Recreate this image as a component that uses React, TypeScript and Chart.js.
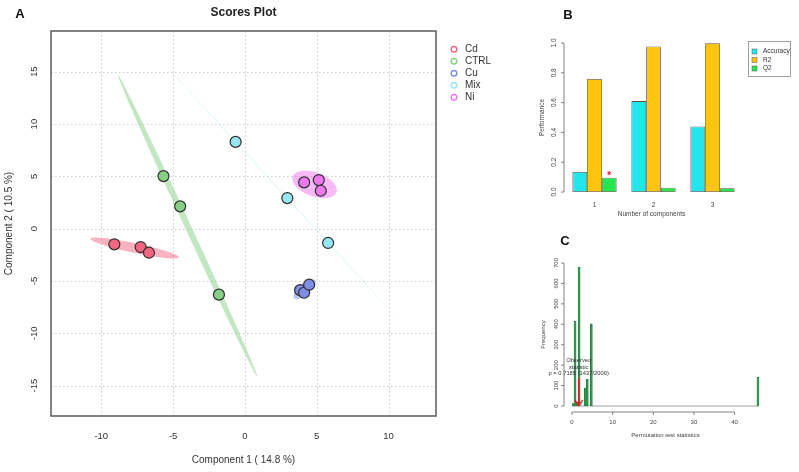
import React, { useEffect, useRef } from 'react';
import { Chart, registerables } from 'chart.js';
Chart.register(...registerables);

const FONT = '"Liberation Sans", Arial, Helvetica, sans-serif';

// ---------- Panel A: Scores plot ----------
const groupNames = ['Cd', 'CTRL', 'Cu', 'Mix', 'Ni'];
const groupColors = ['#F0677F', '#86D086', '#7D8DE2', '#95E7F3', '#EE78EE'];
const cdX = [-9.09, -7.26, -6.68];
const cdY = [-1.49, -1.75, -2.29];
const ctrlX = [-5.67, -4.51, -1.81];
const ctrlY = [5.03, 2.14, -6.3];
const cuX = [3.84, 4.12, 4.47];
const cuY = [-5.87, -6.12, -5.35];
const mixX = [-0.65, 2.95, 5.79];
const mixY = [8.3, 2.93, -1.36];
const niX = [4.12, 5.14, 5.28];
const niY = [4.43, 4.65, 3.63];
const scoreXTicks = [-10, -5, 0, 5, 10];
const scoreYTicks = [-15, -10, -5, 0, 5, 10, 15];
const scoresTitle = 'Scores Plot';
const pc1Label = 'Component 1 ( 14.8 %)';
const pc2Label = 'Component 2 ( 10.5 %)';

// ---------- Panel B: cross validation performance ----------
const compLabels = ['1', '2', '3'];
const accuracy = [0.134, 0.61, 0.44];
const r2 = [0.758, 0.977, 0.998];
const q2 = [0.096, 0.029, 0.025];
const perfSeriesNames = ['Accuracy', 'R2', 'Q2'];
const perfColors = ['#22E6EC', '#FFC40F', '#26E650'];
const perfTicks = [0, 0.2, 0.4, 0.6, 0.8, 1.0];
const bestComponentIndex = 0;

// ---------- Panel C: permutation test ----------
const binStarts = [0, 0.5, 1.0, 1.5, 3.0, 3.5, 4.5, 45.5];
const binCounts = [12, 415, 20, 680, 88, 131, 402, 140];
const binWidth = 0.5;
const permXTicks = [0, 10, 20, 30, 40];
const permYTicks = [0, 100, 200, 300, 400, 500, 600, 700];
const permXMax = 46;
const observedStat = 1.65;
const observedLines = ['Observed', 'statistic', 'p = 0.7185 (1437/2000)'];

const scoreGroups = [
  { xs: cdX, ys: cdY },
  { xs: ctrlX, ys: ctrlY },
  { xs: cuX, ys: cuY },
  { xs: mixX, ys: mixY },
  { xs: niX, ys: niY },
].map((g, i) => ({ ...g, name: groupNames[i], color: groupColors[i] }));

function rgba(hex: string, a: number) {
  const n = parseInt(hex.slice(1), 16);
  return `rgba(${(n >> 16) & 255},${(n >> 8) & 255},${n & 255},${a})`;
}

// 95% confidence ellipse from the sample covariance (as ellipse::ellipse does)
function ellipsePoints(xs: number[], ys: number[], steps = 120) {
  const k = xs.length;
  const mx = xs.reduce((a, b) => a + b, 0) / k;
  const my = ys.reduce((a, b) => a + b, 0) / k;
  let sxx = 0, syy = 0, sxy = 0;
  for (let i = 0; i < k; i++) {
    sxx += (xs[i] - mx) ** 2;
    syy += (ys[i] - my) ** 2;
    sxy += (xs[i] - mx) * (ys[i] - my);
  }
  sxx /= k - 1; syy /= k - 1; sxy /= k - 1;
  const t = Math.sqrt(5.991464547107979);
  const tr = sxx + syy;
  const det = sxx * syy - sxy * sxy;
  const disc = Math.sqrt(Math.max(tr * tr / 4 - det, 0));
  const l1 = tr / 2 + disc;
  const l2 = Math.max(tr / 2 - disc, 0);
  const phi = Math.abs(sxy) < 1e-12 ? (sxx >= syy ? 0 : Math.PI / 2) : Math.atan2(l1 - sxx, sxy);
  const a = t * Math.sqrt(l1);
  const b = t * Math.sqrt(l2);
  const pts: { x: number; y: number }[] = [];
  for (let s = 0; s <= steps; s++) {
    const th = (s / steps) * Math.PI * 2;
    pts.push({
      x: mx + a * Math.cos(th) * Math.cos(phi) - b * Math.sin(th) * Math.sin(phi),
      y: my + a * Math.cos(th) * Math.sin(phi) + b * Math.sin(th) * Math.cos(phi),
    });
  }
  return pts;
}

function text(ctx: CanvasRenderingContext2D, s: string, x: number, y: number, font: string, color = '#333', align: CanvasTextAlign = 'center', rot = 0) {
  ctx.save();
  ctx.font = font;
  ctx.fillStyle = color;
  ctx.textAlign = align;
  ctx.textBaseline = 'middle';
  ctx.translate(x, y);
  if (rot) ctx.rotate(rot);
  ctx.fillText(s, 0, 0);
  ctx.restore();
}

function line(ctx: CanvasRenderingContext2D, x1: number, y1: number, x2: number, y2: number) {
  ctx.beginPath();
  ctx.moveTo(x1, y1);
  ctx.lineTo(x2, y2);
  ctx.stroke();
}

const scoresPlugin = {
  id: 'scoresDeco',
  beforeDatasetsDraw(chart: any) {
    const { ctx, chartArea: ca, scales } = chart;
    const x = scales.x, y = scales.y;
    ctx.save();
    ctx.strokeStyle = '#cdcdcd';
    ctx.lineWidth = 1;
    ctx.setLineDash([1.5, 2.5]);
    scoreXTicks.forEach((v) => {
      const px = Math.round(x.getPixelForValue(v)) + 0.5;
      line(ctx, px, ca.top, px, ca.bottom);
    });
    scoreYTicks.forEach((v) => {
      const py = Math.round(y.getPixelForValue(v)) + 0.5;
      line(ctx, ca.left, py, ca.right, py);
    });
    ctx.setLineDash([]);
    ctx.beginPath();
    ctx.rect(ca.left, ca.top, ca.width, ca.height);
    ctx.clip();
    scoreGroups.forEach((g) => {
      const pts = ellipsePoints(g.xs, g.ys);
      ctx.beginPath();
      pts.forEach((p, i) => {
        const px = x.getPixelForValue(p.x);
        const py = y.getPixelForValue(p.y);
        if (i === 0) ctx.moveTo(px, py);
        else ctx.lineTo(px, py);
      });
      ctx.closePath();
      ctx.fillStyle = rgba(g.color, 0.5);
      ctx.fill();
    });
    ctx.restore();
  },
  afterDraw(chart: any) {
    const { ctx, chartArea: ca, scales } = chart;
    const x = scales.x, y = scales.y;
    ctx.save();
    ctx.strokeStyle = '#5a5a5a';
    ctx.lineWidth = 1.5;
    ctx.strokeRect(ca.left, ca.top, ca.width, ca.height);
    const tickFont = `9.5px ${FONT}`;
    scoreXTicks.forEach((v) => text(ctx, String(v), x.getPixelForValue(v), ca.bottom + 20, tickFont, '#333'));
    scoreYTicks.forEach((v) => text(ctx, String(v), ca.left - 17, y.getPixelForValue(v), tickFont, '#333', 'center', -Math.PI / 2));
    const cx = (ca.left + ca.right) / 2;
    text(ctx, scoresTitle, cx, 13, `bold 12px ${FONT}`, '#222');
    text(ctx, pc1Label, cx, 460, `10px ${FONT}`, '#333');
    text(ctx, pc2Label, 9, (ca.top + ca.bottom) / 2, `10px ${FONT}`, '#333', 'center', -Math.PI / 2);
    text(ctx, 'A', 20, 14, `bold 13px ${FONT}`, '#111');
    scoreGroups.forEach((g, i) => {
      const ly = 49.3 + i * 12;
      ctx.beginPath();
      ctx.arc(454, ly, 2.8, 0, Math.PI * 2);
      ctx.strokeStyle = g.color;
      ctx.lineWidth = 1.4;
      ctx.stroke();
      text(ctx, g.name, 465, ly, `10px ${FONT}`, '#333', 'left');
    });
    ctx.restore();
  },
};

const perfPlugin = {
  id: 'perfDeco',
  afterDraw(chart: any) {
    const { ctx, chartArea: ca, scales } = chart;
    const x = scales.x, y = scales.y;
    ctx.save();
    ctx.strokeStyle = '#666';
    ctx.lineWidth = 0.8;
    const ax = ca.left - 1;
    line(ctx, ax, y.getPixelForValue(0), ax, y.getPixelForValue(1));
    const f = `6.5px ${FONT}`;
    perfTicks.forEach((v) => {
      const py = y.getPixelForValue(v);
      line(ctx, ax, py, ax - 3, py);
      text(ctx, v.toFixed(1), ax - 10, py, f, '#444', 'center', -Math.PI / 2);
    });
    compLabels.forEach((l, i) => text(ctx, l, x.getPixelForValue(i), ca.bottom + 13, f, '#444'));
    text(ctx, 'Number of components', (ca.left + ca.right) / 2 - 2, ca.bottom + 22, f, '#444');
    text(ctx, 'Performance', 12, (ca.top + ca.bottom) / 2, f, '#444', 'center', -Math.PI / 2);
    // star on best Q2
    const bar = chart.getDatasetMeta(2).data[bestComponentIndex];
    text(ctx, '*', bar.x, bar.y - 2, `bold 11px ${FONT}`, '#E8203A');
    // legend
    ctx.strokeStyle = '#888';
    ctx.lineWidth = 0.8;
    ctx.strokeRect(218.5, 41.5, 42, 35);
    perfSeriesNames.forEach((n, i) => {
      const ly = 51.5 + i * 8.5;
      ctx.fillStyle = perfColors[i];
      ctx.fillRect(222, ly - 2.5, 5, 5);
      ctx.strokeStyle = '#555';
      ctx.lineWidth = 0.5;
      ctx.strokeRect(222, ly - 2.5, 5, 5);
      text(ctx, n, 233, ly, `6.5px ${FONT}`, '#333', 'left');
    });
    text(ctx, 'B', 38, 15, `bold 13px ${FONT}`, '#111');
    ctx.restore();
  },
};

const permPlugin = {
  id: 'permDeco',
  beforeDatasetsDraw(chart: any) {
    const { ctx, scales } = chart;
    const x = scales.x, y = scales.y;
    ctx.save();
    ctx.strokeStyle = '#888';
    ctx.lineWidth = 0.8;
    const py = y.getPixelForValue(0);
    line(ctx, x.getPixelForValue(0), py, x.getPixelForValue(permXMax), py);
    ctx.restore();
  },
  afterDraw(chart: any) {
    const { ctx, scales } = chart;
    const x = scales.x, y = scales.y;
    ctx.save();
    const f = `6px ${FONT}`;
    ctx.strokeStyle = '#666';
    ctx.lineWidth = 0.8;
    const ay = y.getPixelForValue(0) + 6;
    line(ctx, x.getPixelForValue(permXTicks[0]), ay, x.getPixelForValue(permXTicks[permXTicks.length - 1]), ay);
    permXTicks.forEach((v) => {
      const px = x.getPixelForValue(v);
      line(ctx, px, ay, px, ay + 3);
      text(ctx, String(v), px, ay + 10, f, '#444');
    });
    const ax = x.getPixelForValue(0) - 8;
    line(ctx, ax, y.getPixelForValue(permYTicks[0]), ax, y.getPixelForValue(permYTicks[permYTicks.length - 1]));
    permYTicks.forEach((v) => {
      const py = y.getPixelForValue(v);
      line(ctx, ax, py, ax - 3, py);
      text(ctx, String(v), ax - 8, py, f, '#444', 'center', -Math.PI / 2);
    });
    text(ctx, 'Permutation test statistics', (x.getPixelForValue(0) + x.getPixelForValue(permXMax)) / 2, ay + 23, f, '#444');
    text(ctx, 'Frequency', 13, (y.getPixelForValue(0) + y.getPixelForValue(700)) / 2, f, '#444', 'center', -Math.PI / 2);
    // observed statistic arrow
    const maxCount = Math.max(...binCounts);
    const ox = x.getPixelForValue(observedStat);
    const top = y.getPixelForValue(maxCount / 5);
    const tip = y.getPixelForValue(0);
    ctx.strokeStyle = 'rgba(225,30,30,0.85)';
    ctx.lineWidth = 1.6;
    line(ctx, ox, top, ox, tip);
    line(ctx, ox - 4, tip - 6, ox, tip);
    line(ctx, ox + 4, tip - 6, ox, tip);
    observedLines.forEach((s, i) => text(ctx, s, ox, top - 18 + i * 6.7, `5.8px ${FONT}`, '#333'));
    text(ctx, 'C', 35, 11, `bold 13px ${FONT}`, '#111');
    ctx.restore();
  },
};

function useChart(ref: any, makeConfig: () => any) {
  useEffect(() => {
    const chart = new Chart(ref.current, makeConfig());
    return () => chart.destroy();
  }, []);
}

export default function App() {
  const aRef = useRef<HTMLCanvasElement>(null);
  const bRef = useRef<HTMLCanvasElement>(null);
  const cRef = useRef<HTMLCanvasElement>(null);

  useChart(aRef, () => ({
    type: 'scatter',
    data: {
      datasets: scoreGroups.map((g) => ({
        label: g.name,
        data: g.xs.map((v, i) => ({ x: v, y: g.ys[i] })),
        backgroundColor: g.color,
        borderColor: '#2e2e2e',
        borderWidth: 1.2,
        pointRadius: 5.5,
        pointHoverRadius: 5.5,
      })),
    },
    options: {
      responsive: false,
      animation: false,
      devicePixelRatio: 1,
      events: [],
      layout: { padding: { left: 51, top: 31, right: 94, bottom: 56 } },
      plugins: { legend: { display: false }, tooltip: { enabled: false } },
      scales: {
        x: { type: 'linear', display: false, min: -13.5, max: 13.3 },
        y: { type: 'linear', display: false, min: -17.9, max: 18.9 },
      },
    },
    plugins: [scoresPlugin],
  }));

  useChart(bRef, () => ({
    type: 'bar',
    data: {
      labels: compLabels,
      datasets: [accuracy, r2, q2].map((d, i) => ({
        label: perfSeriesNames[i],
        data: d,
        backgroundColor: perfColors[i],
        borderColor: '#5a5040',
        borderWidth: 0.8,
        borderSkipped: false,
        barPercentage: 1,
        categoryPercentage: 0.75,
      })),
    },
    options: {
      responsive: false,
      animation: false,
      devicePixelRatio: 1,
      events: [],
      layout: { padding: { left: 35, top: 43, right: 57, bottom: 38 } },
      plugins: { legend: { display: false }, tooltip: { enabled: false } },
      scales: {
        x: { type: 'category', display: false },
        y: { type: 'linear', display: false, min: 0, max: 1 },
      },
    },
    plugins: [perfPlugin],
  }));

  useChart(cRef, () => ({
    type: 'bar',
    data: {
      datasets: [
        {
          label: 'Permutation',
          data: binStarts.map((s, i) => ({ x: s + binWidth / 2, y: binCounts[i] })),
          backgroundColor: '#2A9D4A',
          borderColor: '#1F6B34',
          borderWidth: 0.5,
          borderSkipped: false,
          barPercentage: 1,
          categoryPercentage: 1,
        },
      ],
    },
    options: {
      responsive: false,
      animation: false,
      devicePixelRatio: 1,
      events: [],
      layout: { padding: { left: 42, top: 33, right: 40, bottom: 66 } },
      plugins: { legend: { display: false }, tooltip: { enabled: false } },
      scales: {
        x: { type: 'linear', display: false, min: 0, max: permXMax, offset: false },
        y: { type: 'linear', display: false, min: 0, max: 700 },
      },
    },
    plugins: [permPlugin],
  }));

  const abs = (left: number, top: number, w: number, h: number): React.CSSProperties => ({
    position: 'absolute', left, top, width: w, height: h,
  });

  return (
    <div style={{ position: 'fixed', left: 0, top: 0, width: 799, height: 472, background: '#fff', overflow: 'hidden' }}>
      <canvas ref={aRef} width={530} height={472} style={abs(0, 0, 530, 472)} />
      <canvas ref={bRef} width={269} height={230} style={abs(530, 0, 269, 230)} />
      <canvas ref={cRef} width={269} height={242} style={abs(530, 230, 269, 242)} />
    </div>
  );
}
